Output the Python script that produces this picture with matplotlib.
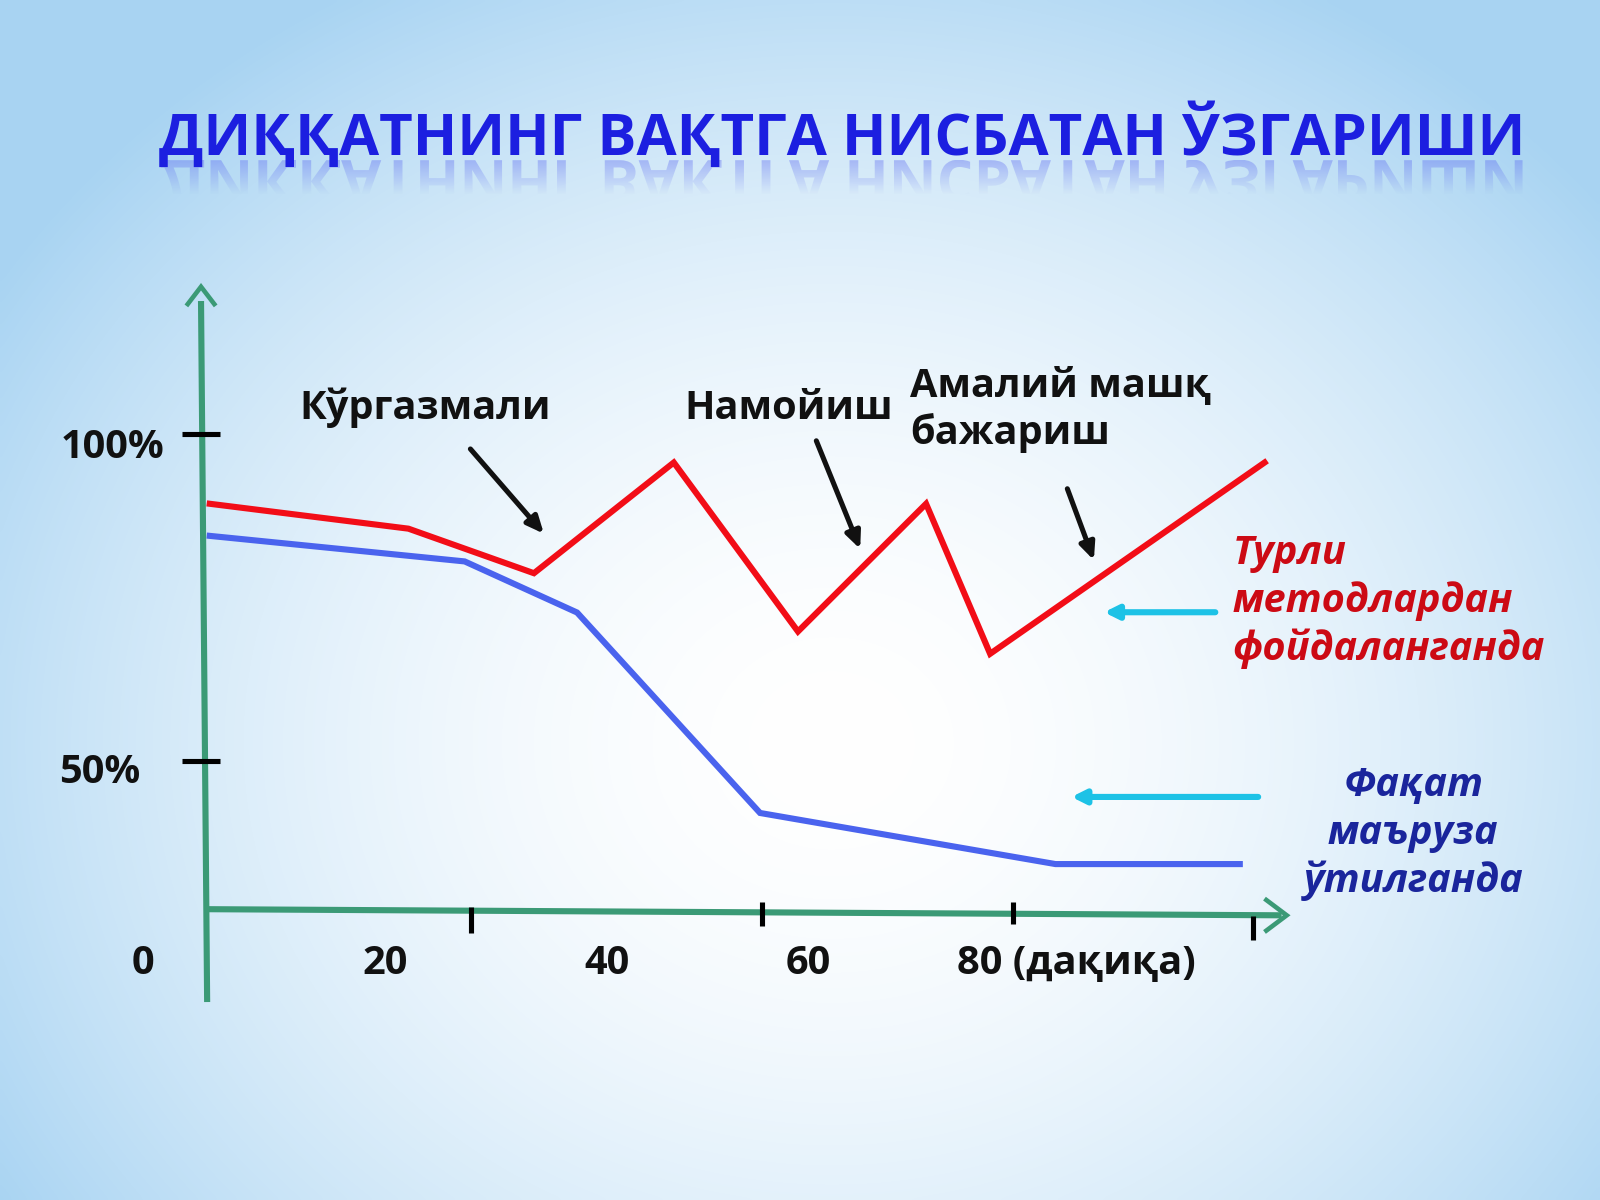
import numpy as np
import matplotlib
matplotlib.use("Agg")
import matplotlib.pyplot as plt
from matplotlib.textpath import TextPath
from matplotlib.font_manager import FontProperties
from matplotlib.patches import PathPatch
from matplotlib.transforms import Affine2D

plt.rcParams['font.family'] = ['Open Sans', 'DejaVu Sans']

# ---------------- data ----------------
title = "ДИҚҚАТНИНГ ВАҚТГА НИСБАТАН ЎЗГАРИШИ"
minutes_red = [0.2, 15.4, 25.0, 35.7, 45.2, 55.0, 59.9, 80.9]
pct_red = [89.3, 85.5, 78.7, 95.6, 69.8, 89.3, 66.4, 95.6]
minutes_blue = [0.2, 19.7, 28.3, 42.3, 64.9, 79.0]
pct_blue = [84.4, 80.5, 72.7, 42.1, 34.3, 34.3]
y_tick_labels = ["100%", "50%"]
x_tick_labels = ["0", "20", "40", "60", "80 (дақиқа)"]
annot_labels = ["Кўргазмали", "Намойиш", "Амалий машқ\nбажариш"]
series_labels = ["Турли\nметодлардан\nфойдаланганда", "Фақат\nмаъруза\nўтилганда"]

W, H = 1568, 1176  # reference pixel frame
fig = plt.figure(figsize=(16, 12), dpi=100)
S = 1600 / W
def pt(px):  # reference pixels -> points
    return px * S * 72 / 100

# ---------------- background gradient ----------------
bg = fig.add_axes([0, 0, 1, 1])
bg.set_axis_off()
yy, xx = np.mgrid[0:1:300j, 0:1:400j]
r = np.sqrt(((xx - 0.52) / 0.62) ** 2 + ((yy - 0.62) / 0.72) ** 2)
t = np.clip(r, 0, 1.0) ** 1.8
edge = np.array([0.66, 0.83, 0.95])
white = np.array([1.0, 1.0, 1.0])
img = white[None, None, :] * (1 - t[..., None]) + edge[None, None, :] * t[..., None]
bg.imshow(img, extent=[0, W, H, 0], aspect='auto', interpolation='bicubic')
bg.set_xlim(0, W); bg.set_ylim(H, 0)

# ---------------- data axes ----------------
ax = fig.add_axes([0, 0, 1, 1])
ax.patch.set_alpha(0)
ax.set_axis_off()
px_per_min = 12.81
px_per_pct = 6.42
x0px, y100px = 203, 425
ax.set_xlim((0 - x0px) / px_per_min, (W - x0px) / px_per_min)
ax.set_ylim(100 - (H - y100px) / px_per_pct, 100 + y100px / px_per_pct)

# ---------------- overlay axes in reference pixels ----------------
ov = fig.add_axes([0, 0, 1, 1])
ov.patch.set_alpha(0)
ov.set_axis_off()
ov.set_xlim(0, W); ov.set_ylim(H, 0)

green = '#3b9a76'
# axes lines
ov.plot([197, 203], [295, 982], color=green, lw=pt(6), solid_capstyle='butt', zorder=2)
ov.plot([203, 1256], [891, 897], color=green, lw=pt(6), solid_capstyle='butt', zorder=2)
ov.plot([184, 197, 210], [298, 281, 298], color=green, lw=pt(4.5), solid_joinstyle='miter', zorder=2)
ov.plot([1241, 1261, 1241], [882, 897, 912], color=green, lw=pt(4.5), solid_joinstyle='miter', zorder=2)

# tick marks
for yv in (425, 746):
    ov.plot([178, 216], [yv, yv], color='black', lw=pt(5), solid_capstyle='butt', zorder=3)
for xv, ya, yb in [(462, 889, 914), (747, 884, 907), (993, 884, 906), (1228, 898, 921)]:
    ov.plot([xv, xv], [ya, yb], color='black', lw=pt(5), solid_capstyle='butt', zorder=3)

# data lines
ax.plot(minutes_red, pct_red, color='#f20d17', lw=pt(6), solid_joinstyle='miter', zorder=4)
ax.plot(minutes_blue, pct_blue, color='#4a63ee', lw=pt(6), solid_joinstyle='miter', zorder=4)

# ---------------- title + reflection ----------------
title_fs = pt(57)
title_col = '#1c1fe0'
tx, tbase = 825, 152
ov.text(tx, tbase, title, fontsize=title_fs, fontweight='bold', color=title_col,
        ha='center', va='baseline', zorder=6)
fp = FontProperties(family='Open Sans', weight='bold')
tp = TextPath((0, 0), title, size=title_fs * 100 / 72 / S, prop=fp)
ext = tp.get_extents()
tp = tp.transformed(Affine2D().translate(tx - (ext.x0 + ext.x1) / 2, tbase + 5))
grad = np.zeros((50, 2, 4))
grad[..., 0] = 0.35; grad[..., 1] = 0.40; grad[..., 2] = 0.95
grad[..., 3] = np.linspace(0.38, 0.0, 50)[:, None] ** 1.0
patch = PathPatch(tp, facecolor='none', edgecolor='none')
ov.add_patch(patch)
im = ov.imshow(grad, extent=[100, 1550, tbase + 5 + 34, tbase + 5], aspect='auto', zorder=5)
im.set_clip_path(patch)
ov.set_xlim(0, W); ov.set_ylim(H, 0)

# ---------------- labels ----------------
lab_fs = pt(39)
ov.text(417, 411, annot_labels[0], fontsize=lab_fs, fontweight='bold', color='#111111',
        ha='center', va='baseline', zorder=6)
ov.text(773, 411, annot_labels[1], fontsize=lab_fs, fontweight='bold', color='#111111',
        ha='center', va='baseline', zorder=6)
ov.text(892, 389, "Амалий машқ", fontsize=lab_fs, fontweight='bold', color='#111111',
        ha='left', va='baseline', zorder=6)
ov.text(892, 435, "бажариш", fontsize=lab_fs, fontweight='bold', color='#111111',
        ha='left', va='baseline', zorder=6)

# y tick labels
ov.text(110, 449, y_tick_labels[0], fontsize=lab_fs, fontweight='bold', color='#111111',
        ha='center', va='baseline', zorder=6)
ov.text(98, 767, y_tick_labels[1], fontsize=lab_fs, fontweight='bold', color='#111111',
        ha='center', va='baseline', zorder=6)
# x tick labels
for s, xv in zip(x_tick_labels, [140, 377, 595, 792, 1055]):
    ov.text(xv, 955, s, fontsize=lab_fs, fontweight='bold', color='#111111',
            ha='center', va='baseline', zorder=6)

# series labels
red_lab = series_labels[0].split("\n")
for i, s in enumerate(red_lab):
    ov.text(1208, 553 + i * 47, s, fontsize=lab_fs, fontweight='bold', style='italic',
            color='#cc0a14', ha='left', va='baseline', zorder=6)
blue_lab = series_labels[1].split("\n")
for i, s in enumerate(blue_lab):
    ov.text(1385, 780 + i * 47, s, fontsize=lab_fs, fontweight='bold', style='italic',
            color='#1a259c', ha='center', va='baseline', zorder=6)

# ---------------- arrows ----------------
def arrow(x1, y1, x2, y2, col, lw, hl, hw):
    ov.annotate("", xy=(x2, y2), xytext=(x1, y1),
                arrowprops=dict(arrowstyle=f"-|>,head_length={hl},head_width={hw}",
                                color=col, lw=lw, shrinkA=0, shrinkB=0), zorder=7)

arrow(461, 440, 533, 523, '#111111', pt(5), 1.0, 0.45)
arrow(800, 432, 843, 538, '#111111', pt(5), 1.0, 0.45)
arrow(1046, 479, 1072, 549, '#111111', pt(5), 1.0, 0.45)
arrow(1191, 600, 1082, 600, '#1dc2e6', pt(6), 0.8, 0.4)
arrow(1233, 781, 1050, 781, '#1dc2e6', pt(6), 0.8, 0.4)

fig.savefig("out.png", dpi=100)
